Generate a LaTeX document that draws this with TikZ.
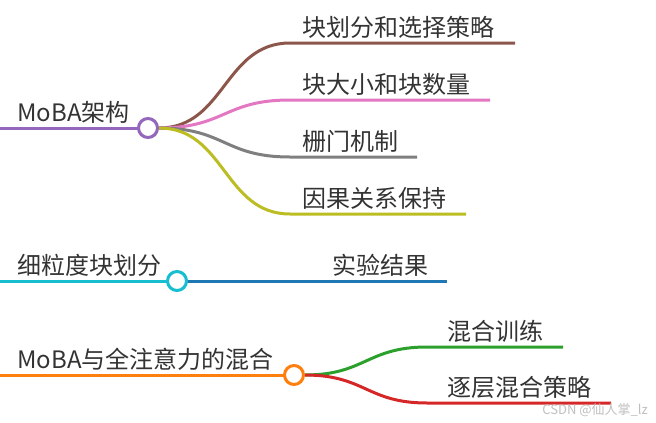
\documentclass[tikz,border=0pt]{standalone}
\usepackage{fontspec}
\setmainfont{Noto Sans CJK SC}
\pgfdeclarelayer{bg}
\pgfsetlayers{bg,main}
\definecolor{cpurple}{HTML}{9467BD}
\definecolor{cbrown}{HTML}{8C564B}
\definecolor{cpink}{HTML}{E377C2}
\definecolor{cgray}{HTML}{7F7F7F}
\definecolor{colive}{HTML}{BCBD22}
\definecolor{ccyan}{HTML}{17BECF}
\definecolor{cblue}{HTML}{1F77B4}
\definecolor{corange}{HTML}{FF7F0E}
\definecolor{cgreen}{HTML}{2CA02C}
\definecolor{cred}{HTML}{D62728}
\definecolor{txt}{HTML}{333333}
\tikzset{
  lbl/.style={anchor=base west, inner sep=0pt, text=txt, font=\fontsize{24}{28}\selectfont},
  hub/.style={circle, draw=#1, line width=3pt, fill=white, minimum size=19pt, inner sep=0pt},
  edge/.style={draw=#1, line width=3pt},
  wm/.style={anchor=base east, inner sep=0pt, text=black!25, font=\fontsize{13}{15}\selectfont}
}
\begin{document}
\begin{tikzpicture}[x=1pt,y=-1pt]
\useasboundingbox (0,0) rectangle (656,423);
% group 1
\coordinate (r1) at (0,128);
\node[hub=cpurple] (c1) at (148,128) {};
\node[lbl] (t1) at (17,121) {MoBA架构};
\coordinate (b1s) at (290,43);  \coordinate (b1e) at (515,43);
\coordinate (b2s) at (290,100); \coordinate (b2e) at (490,100);
\coordinate (b3s) at (290,157); \coordinate (b3e) at (417,157);
\coordinate (b4s) at (290,214); \coordinate (b4e) at (466,214);
\node[lbl] (l1) at (302,36) {块划分和选择策略};
\node[lbl] (l2) at (302,93) {块大小和块数量};
\node[lbl] (l3) at (302,150) {栅门机制};
\node[lbl] (l4) at (302,207) {因果关系保持};
% group 2
\coordinate (r2) at (0,281);
\node[hub=ccyan] (c2) at (177,281) {};
\node[lbl] (t2) at (17,274) {细粒度块划分};
\coordinate (b5e) at (447,281);
\node[lbl] (l5) at (332,274) {实验结果};
% group 3
\coordinate (r3) at (0,375);
\node[hub=corange] (c3) at (294,375) {};
\node[lbl] (t3) at (17,368) {MoBA与全注意力的混合};
\coordinate (b6s) at (427,347); \coordinate (b6e) at (563,347);
\coordinate (b7s) at (427,403); \coordinate (b7e) at (611,403);
\node[lbl] (l6) at (447,340) {混合训练};
\node[lbl] (l7) at (447,396) {逐层混合策略};
\node[wm] (w) at (648,414) {CSDN @仙人掌\_lz};
\begin{pgfonlayer}{bg}
\draw[edge=cpurple] (r1) -- (c1.center);
\draw[edge=cbrown] (c1.east) .. controls +(66,0) and +(-66,0) .. (b1s) -- (b1e);
\draw[edge=cpink] (c1.east) .. controls +(66,0) and +(-66,0) .. (b2s) -- (b2e);
\draw[edge=cgray] (c1.east) .. controls +(66,0) and +(-66,0) .. (b3s) -- (b3e);
\draw[edge=colive] (c1.east) .. controls +(66,0) and +(-66,0) .. (b4s) -- (b4e);
\draw[edge=ccyan] (r2) -- (c2.center);
\draw[edge=cblue] (c2.center) -- (b5e);
\draw[edge=corange] (r3) -- (c3.center);
\draw[edge=cgreen] (c3.east) .. controls +(60,0) and +(-60,0) .. (b6s) -- (b6e);
\draw[edge=cred] (c3.east) .. controls +(60,0) and +(-60,0) .. (b7s) -- (b7e);
\end{pgfonlayer}
\end{tikzpicture}
\end{document}
